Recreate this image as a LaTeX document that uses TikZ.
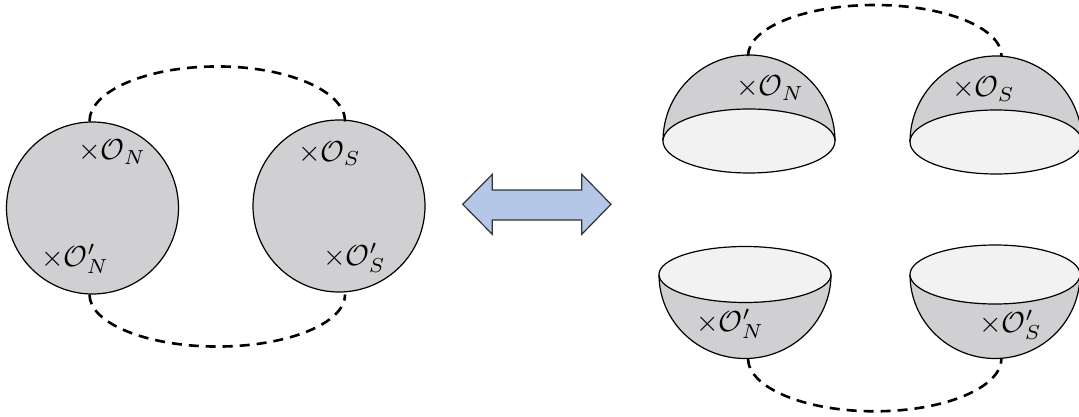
\documentclass[tikz,border=0pt]{standalone}
\usepackage{graphicx}
\definecolor{sph}{RGB}{208,207,210}
\definecolor{innerc}{RGB}{242,242,242}
\definecolor{arrc}{RGB}{180,199,231}
\newcommand\lbltext[1]{\scalebox{2.9}{$#1$}}
\tikzset{
  ball/.style={circle, draw=black, fill=sph, line width=1.2pt, minimum size=172pt, inner sep=0pt},
  conn/.style={line width=2.6pt, dash pattern=on 10pt off 7pt},
  outl/.style={draw=black, line width=1.2pt},
  lbl/.style={inner sep=0pt, anchor=base west},
}
\newcommand\domeup[4]{% cx cy r ry
  \fill[sph] (#1-#3,#2) arc[start angle=180, end angle=360, radius=#3] -- cycle;
  \draw[outl] (#1-#3,#2) arc[start angle=180, end angle=360, radius=#3];
  \draw[outl, fill=innerc] (#1,#2) ellipse[x radius=#3, y radius=#4];
}
\newcommand\bowldown[5]{% cx cy rx rv ry
  \fill[sph] (#1-#3,#2) arc[start angle=180, end angle=0, x radius=#3, y radius=#4] -- cycle;
  \draw[outl] (#1-#3,#2) arc[start angle=180, end angle=0, x radius=#3, y radius=#4];
  \draw[outl, fill=innerc] (#1,#2) ellipse[x radius=#3, y radius=#5];
}
\begin{document}
\begin{tikzpicture}[x=1pt, y=-1pt]
\useasboundingbox (0,0) rectangle (1079,417);
\fill[white] (0,0) rectangle (1079,417);

% left: two spheres
\node[ball] (L) at (92.5,208) {};
\node[ball] (R) at (339,206) {};
\draw[conn] (L.92) arc[start angle=180, end angle=360, x radius=127.8, y radius=55];
\draw[conn] (L.268) arc[start angle=180, end angle=0, x radius=127.8, y radius=52];

\node[lbl] (l1) at (78,160) {\lbltext{\times\mathcal{O}_N}};
\node[lbl] (l2) at (41,266) {\lbltext{\times\mathcal{O}'_N}};
\node[lbl] (l3) at (298,161) {\lbltext{\times\mathcal{O}_S}};
\node[lbl] (l4) at (323,265) {\lbltext{\times\mathcal{O}'_S}};

% double arrow
\draw[fill=arrc, draw=black!80, line width=1.2pt, line join=miter]
  (462.7,204.3) -- (492.3,174.3) -- (492.3,190) -- (581.7,190) -- (581.7,174.3)
  -- (611,204.3) -- (581.7,234.3) -- (581.7,220) -- (492.3,220) -- (492.3,234.3) -- cycle;

% right: hemispheres
\domeup{749}{141}{86}{32}
\domeup{996}{142}{86}{32}
\bowldown{745}{274.5}{86}{84}{28}
\bowldown{995}{274.5}{85}{84}{29.5}

\coordinate (tn) at (748,56);
\coordinate (ts) at (1001.5,56);
\coordinate (bn) at (748,358.3);
\coordinate (bs) at (1001.5,358.3);
\draw[conn] (tn) arc[start angle=180, end angle=360, x radius=126.75, y radius=51];
\draw[conn] (bn) arc[start angle=180, end angle=0, x radius=126.75, y radius=53];

\node[lbl] (r1) at (736,96) {\lbltext{\times\mathcal{O}_N}};
\node[lbl] (r2) at (952,97) {\lbltext{\times\mathcal{O}_S}};
\node[lbl] (r3) at (696,331) {\lbltext{\times\mathcal{O}'_N}};
\node[lbl] (r4) at (979,332) {\lbltext{\times\mathcal{O}'_S}};
\end{tikzpicture}
\end{document}
